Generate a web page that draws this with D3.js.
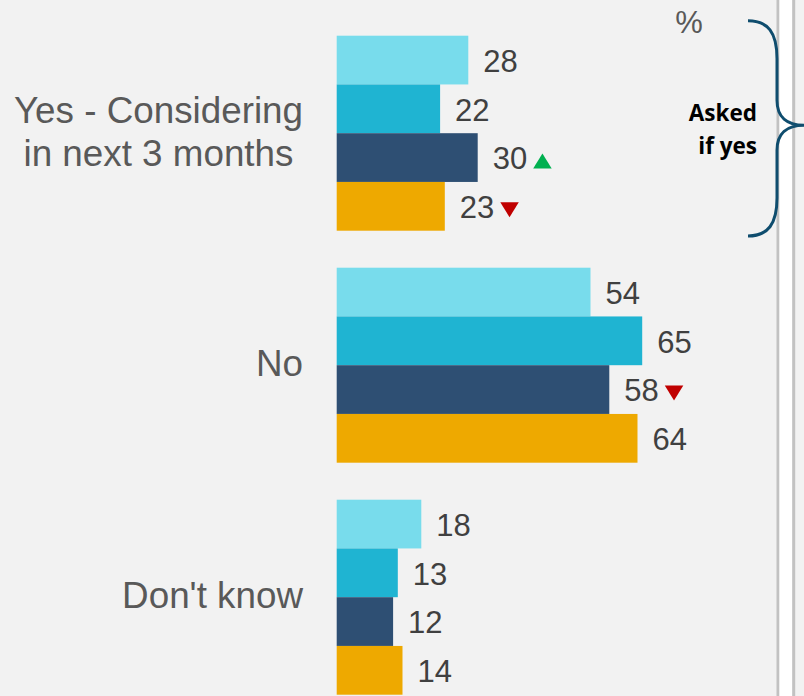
<!DOCTYPE html>
<html>
<head>
<meta charset="utf-8">
<script src="https://cdn.jsdelivr.net/npm/d3@7"></script>
<style>
  html, body { margin: 0; padding: 0; background: #f2f2f2; }
  svg { display: block; }
</style>
</head>
<body>
<script>
// Answer categories (line breaks marked with "\n")
const categories = ["Yes - Considering\nin next 3 months", "No", "Don't know"];

// Series (one bar per series within each category)
const seriesKeys = ["s1", "s2", "s3", "s4"];
const s1Values = [28, 54, 18];
const s2Values = [22, 65, 13];
const s3Values = [30, 58, 12];
const s4Values = [23, 64, 14];

// Significance markers per series/category: "up", "down" or null
const s1Sig = [null, null, null];
const s2Sig = [null, null, null];
const s3Sig = ["up", "down", null];
const s4Sig = ["down", null, null];

const seriesColors = ["#78dcec", "#1fb4d2", "#2e4f73", "#eea900"];

const unitLabel = "%";
const noteLines = ["Asked", "if yes"];

const W = 804, H = 696;

const seriesValues = [s1Values, s2Values, s3Values, s4Values];
const seriesSig = [s1Sig, s2Sig, s3Sig, s4Sig];

const rows = categories.map((c, i) => ({
  category: c,
  bars: seriesKeys.map((k, j) => ({
    key: k, value: seriesValues[j][i], sig: seriesSig[j][i], color: seriesColors[j]
  }))
}));

const svg = d3.select("body").append("svg")
  .attr("width", W).attr("height", H);

svg.append("rect").attr("width", W).attr("height", H).attr("fill", "#f2f2f2");

// Scales
const x = d3.scaleLinear().domain([0, 100]).range([336.7, 806.7]);
const y = d3.scaleBand().domain(categories)
  .range([17.2, 713.2])
  .paddingInner(37 / 232)
  .paddingOuter(37 / 232 / 2);
const ySub = d3.scaleBand().domain(seriesKeys).range([0, y.bandwidth()]).padding(0);

// Divider strip on the right
svg.append("rect").attr("x", 776.5).attr("y", 0).attr("width", 3).attr("height", H).attr("fill", "#c2c2c2");
svg.append("rect").attr("x", 779.5).attr("y", 0).attr("width", 12.7).attr("height", H).attr("fill", "#ffffff");
svg.append("rect").attr("x", 792.2).attr("y", 0).attr("width", 3).attr("height", H).attr("fill", "#c2c2c2");

const groups = svg.selectAll("g.cat").data(rows).join("g")
  .attr("class", "cat")
  .attr("transform", d => `translate(0,${y(d.category)})`);

// Bars
groups.selectAll("rect.bar").data(d => d.bars).join("rect")
  .attr("class", "bar")
  .attr("x", x(0))
  .attr("y", d => ySub(d.key))
  .attr("width", d => x(d.value) - x(0))
  .attr("height", ySub.bandwidth())
  .attr("fill", d => d.color);

// Value labels
const labelFont = "'Liberation Sans', Arial, sans-serif";
groups.selectAll("text.val").data(d => d.bars).join("text")
  .attr("class", "val")
  .attr("x", d => x(d.value) + 15)
  .attr("y", d => ySub(d.key) + ySub.bandwidth() / 2)
  .attr("dy", "0.38em")
  .attr("font-family", labelFont)
  .attr("font-size", 31)
  .attr("fill", "#404040")
  .text(d => d.value)
  .each(function (d) { d.labelEnd = x(d.value) + 15 + this.getComputedTextLength(); });

// Significance triangles
const triW = 18.5;
groups.selectAll("path.sig").data(d => d.bars.filter(b => b.sig)).join("path")
  .attr("class", "sig")
  .attr("d", d => {
    const x0 = d.labelEnd + 6;
    const cy = ySub(d.key) + ySub.bandwidth() / 2;
    const top = cy - 4, bot = cy + 11;
    return d.sig === "up"
      ? `M${x0},${bot}L${x0 + triW},${bot}L${x0 + triW / 2},${top}Z`
      : `M${x0},${top}L${x0 + triW},${top}L${x0 + triW / 2},${bot}Z`;
  })
  .attr("fill", d => d.sig === "up" ? "#00b050" : "#c00000");

// Category labels: block right-aligned to the axis, lines centred within it
const catSize = 36.8, catLine = 43.4, catRight = 303;
groups.append("text")
  .attr("font-family", labelFont)
  .attr("font-size", catSize)
  .attr("fill", "#595959")
  .each(function (d) {
    const lines = d.category.split("\n");
    const cy = y.bandwidth() / 2;
    const t = d3.select(this);
    const spans = t.selectAll("tspan").data(lines).join("tspan")
      .attr("y", (l, i) => cy + 11.3 + (i - (lines.length - 1) / 2) * catLine)
      .text(l => l);
    let maxW = 0;
    spans.each(function () { maxW = Math.max(maxW, this.getComputedTextLength()); });
    spans.attr("x", catRight - maxW / 2).attr("text-anchor", "middle");
  });

// Unit label
svg.append("text")
  .attr("x", 689).attr("y", 33)
  .attr("text-anchor", "middle")
  .attr("font-family", labelFont)
  .attr("font-size", 31)
  .attr("fill", "#595959")
  .text(unitLabel);

// Curly brace spanning the first category
const b0 = y(categories[0]), b1 = b0 + y.bandwidth();
const tipY = (b0 + b1) / 2 - 8;
const bTop = 20.7, bBot = 236;
svg.append("path")
  .attr("d", `M748,${bTop} C768,${bTop} 777,${bTop + 12} 777,${bTop + 38}
              L777,${tipY - 25} C777,${tipY - 8} 787,${tipY} 804,${tipY}
              C787,${tipY} 777,${tipY + 8} 777,${tipY + 25}
              L777,${bBot - 38} C777,${bBot - 12} 768,${bBot} 748,${bBot}`)
  .attr("fill", "none")
  .attr("stroke", "#0f4d6e")
  .attr("stroke-width", 3);

// Note beside the brace
svg.append("text")
  .attr("text-anchor", "end")
  .attr("font-family", "'Open Sans', Lato, sans-serif")
  .attr("font-weight", 700)
  .attr("font-size", 22.5)
  .attr("fill", "#000000")
  .selectAll("tspan").data(noteLines).join("tspan")
  .attr("x", 757)
  .attr("y", (l, i) => 120.7 + i * 33.3)
  .text(l => l);
</script>
</body>
</html>
